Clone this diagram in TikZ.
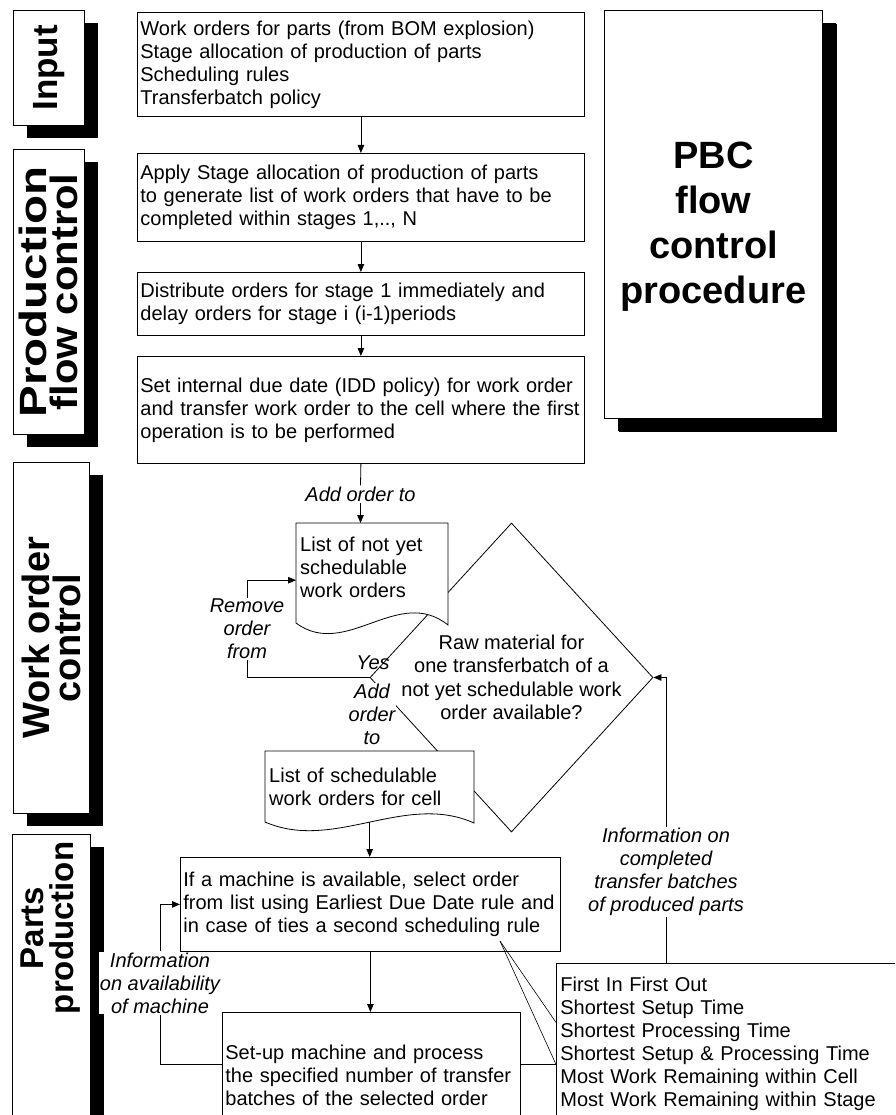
\documentclass[tikz,border=0pt]{standalone}
\usepackage{fontspec}
\setmainfont{Liberation Sans}
\usepackage{graphicx}
\usetikzlibrary{
	arrows.meta,
	shapes.geometric,
	shadows
}

\begin{document}
\begin{tikzpicture}[
		x=1pt, y=-1pt,
		box/.style={draw, line width=0.8pt, fill=white, anchor=north west, align=left, inner xsep=3pt, inner ysep=0pt, font=\fontsize{20}{23}\selectfont},
		sidebox/.style={draw, line width=0.8pt, fill=white, anchor=north west, inner sep=0pt, drop shadow={shadow xshift=14pt, shadow yshift=-13pt, opacity=1, fill=black, draw=none}},
		sidetext/.style={rotate=90, align=center, inner sep=0pt, font=\fontsize{38}{31}\selectfont\bfseries},
		doctext/.style={anchor=north west, align=left, inner xsep=4pt, inner ysep=0pt, font=\fontsize{20}{23}\selectfont},
		docline/.style={draw, fill=white, line width=0.8pt},
		decision/.style={draw, diamond, line width=0.8pt, inner sep=0pt},
		lbl/.style={align=center, inner sep=1pt, fill=white, font=\fontsize{20}{23}\selectfont\itshape},
		arrow/.style={-{Triangle[length=8pt,width=6.5pt]}, line width=0.8pt},
		link/.style={line width=0.8pt},
		ruleline/.style={line width=0.6pt}
		]
		\useasboundingbox (0,0) rectangle (895,1115);
		\clip (0,0) rectangle (895,1115);
		
		% Phase boxes on the left
		\node[sidebox, minimum width=71pt, minimum height=115pt] (inlbl) at (13,10) {};
		\node[sidetext, font=\fontsize{35}{31}\selectfont\bfseries] (inputtxt) at (inlbl.center) {Input};
		\node[sidebox, minimum width=71pt, minimum height=285pt] (pfclbl) at (13,149) {};
		\node[sidetext] (pfctxt) at (pfclbl.center) {\scalebox{1.25}[1]{Production}\\\scalebox{1.1}[1]{flow control}};
		\node[sidebox, minimum width=76pt, minimum height=351pt] (wolbl) at (13,462) {};
		\node[sidetext] (wotxt) at (wolbl.center) {Work order\\control};
		\node[sidebox, minimum width=78pt, minimum height=300pt] (pplbl) at (12,834) {};
		\node[sidetext, font=\fontsize{33}{30}\selectfont\bfseries] (pptxt) at (51,928) {Parts\\production};
		
		% Title box
		\node[sidebox, minimum width=218pt, minimum height=408pt, drop shadow={shadow xshift=15pt, shadow yshift=-14pt, opacity=1, fill=black, draw=none}] (pbc) at (604,10) {};
		\node[align=center, font=\fontsize{38}{45}\selectfont\bfseries] (pbctxt) at ([yshift=-12pt]pbc.center) {PBC\\flow\\control\\procedure};
		
		% Production flow control
		\node[box, text width=441pt, minimum height=104pt] (orders) at (137,12) {Work orders for parts (from BOM explosion)\\Stage allocation of production of parts\\Scheduling rules\\Transferbatch policy};
		\node[box, text width=441pt, minimum height=88pt] (alloc) at (137,153) {Apply Stage allocation of production of parts\\to generate list of work orders that have to be\\completed within stages 1,.., N};
		\node[box, text width=441pt, minimum height=63pt] (distr) at (137,272) {Distribute orders for stage 1 immediately and\\delay orders for stage i (i-1)periods};
		\node[box, text width=441pt, minimum height=107pt] (idd) at (137,356) {Set internal due date (IDD policy) for work order\\and transfer work order to the cell where the first\\operation is to be performed};
		
		% Work order control
		\node[decision, minimum width=283pt, minimum height=309pt] (avail) at (511.5,677.5) {};
		\node[align=center, font=\fontsize{20}{23.5}\selectfont] (availtxt) at (avail.center) {Raw material for\\one transferbatch of a\\not yet schedulable work\\order available?};
		
		\draw[docline] (296,523) -- (448,523) -- (448,625) .. controls (398,585) and (346,660) .. (296,623) -- cycle;
		\node[doctext, text width=144pt, minimum height=88pt] (doc1) at (296,523) {List of not yet\\schedulable\\work orders};
		\draw[docline] (265,751) -- (474,751) -- (474,823) .. controls (405,792) and (334,852) .. (265,822) -- cycle;
		\node[doctext, text width=201pt, minimum height=71pt] (doc2) at (265,751) {List of schedulable\\work orders for cell};
		
		% Parts production
		\node[box, text width=374pt, minimum height=94pt] (select) at (180,857) {If a machine is available, select order\\from list using Earliest Due Date rule and\\in case of ties a second scheduling rule};
		\node[box, text width=292pt, minimum height=126pt] (setup) at (222,1012) {Set-up machine and process\\the specified number of transfer\\batches of the selected order};
		\node[box, inner xsep=4pt, text width=392pt, minimum height=160pt] (rules) at (556,963) {First In First Out\\Shortest Setup Time\\Shortest Processing Time\\Shortest Setup \& Processing Time\\Most Work Remaining within Cell\\Most Work Remaining within Stage};
		\coordinate (rulept) at (500,941);
		
		% Labels
		\node[lbl] (addlbl) at (360.5,494) {Add order to};
		\node[lbl] (removelbl) at (247,629) {Remove\\order\\from};
		\node[lbl, fill=none] (yeslbl) at (373,663) {Yes};
		\node[lbl] (addlbl2) at (372,714) {Add\\order\\to};
		\node[lbl] (infolbl) at (666,872) {Information on\\completed\\transfer batches\\of produced parts};
		\node[lbl] (maclbl) at (160,983) {Information\\on availability\\of machine};
		
		% Arrows
		\draw[arrow] (orders) -- (alloc);
		\draw[arrow] (alloc) -- (distr);
		\draw[arrow] (distr) -- (idd);
		\draw[link] (idd.south) -- (addlbl.north);
		\draw[arrow] (addlbl.south) -- (addlbl.south |- doc1.north);
		\draw[link] (avail.west) -| (removelbl.south);
		\draw[arrow] (removelbl.north) |- ([yshift=-13pt]doc1.west);
		\draw[arrow] (doc2.south) -- (doc2.south |- select.north);
		\draw[arrow] (select.south) -- (select.south |- setup.north);
		\draw[link] ([yshift=11pt]setup.west) -| (maclbl.south);
		\draw[arrow] (maclbl.north) |- (select.west);
		\draw[link] (infolbl.south |- rules.north) -- (infolbl.south);
		\draw[arrow] (infolbl.north) |- (avail.east);
		\draw[link] ([yshift=11pt]setup.east) -- ([yshift=11pt]setup.east -| rules.west);
		\draw[ruleline] (rulept) -- ([yshift=21pt]rules.west);
		\draw[ruleline] (rulept) -- ([yshift=-21pt]rules.west);
		
	\end{tikzpicture}
\end{document}
